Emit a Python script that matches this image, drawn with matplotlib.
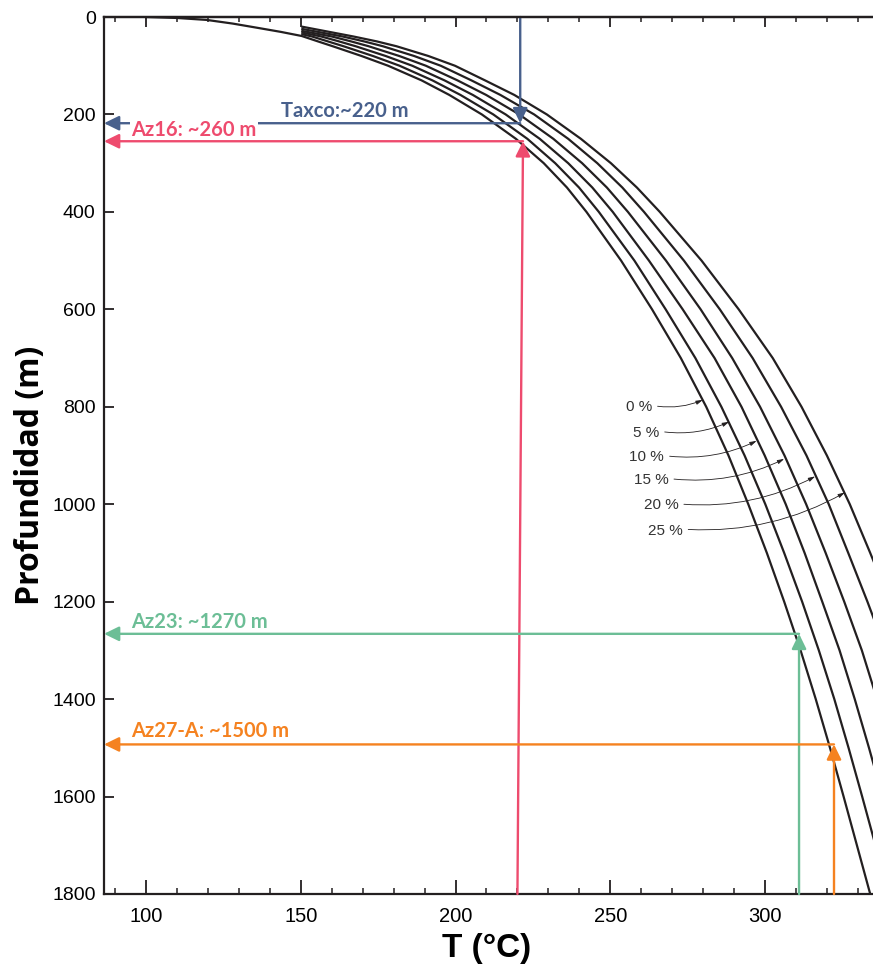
import numpy as np
import matplotlib.pyplot as plt

plt.rcParams['font.family'] = ['Liberation Sans', 'DejaVu Sans']

# curva 0 % (incluye el tramo comun superficial)
d_0 = [0, 2, 6, 13.5, 22, 30.5, 39, 50, 60, 80, 100, 130, 160, 200, 250, 300, 350,
       400, 500, 600, 700, 800, 900, 1000, 1100, 1200, 1300, 1400, 1500, 1600, 1700, 1800]
t_0 = [100, 110, 119.6, 128, 135.8, 143.5, 150.3, 155.5, 160.3, 169.6, 178.2, 189, 198,
       208.5, 219.5, 228.5, 236, 242.3, 253.5, 263.5, 272.8, 281, 288.2, 294.6, 300.6,
       306.2, 311.5, 316.4, 321, 325.4, 329.7, 334]

# resto de curvas: arrancan en T = 150.5 a distintas profundidades
grid = [40, 50, 60, 80, 100, 130, 160, 200, 250, 300, 350, 400, 500, 600, 700, 800,
        900, 1000, 1100, 1200, 1300, 1400, 1500, 1600, 1700, 1800]
t_5 = [153.6, 158.7, 163.8, 173.3, 181.9, 192.5, 201.6, 212.2, 223.2, 232.2, 239.9,
       246.3, 257.8, 267.9, 277.5, 285.9, 293.4, 300.1, 306.2, 312, 317.4, 322.4, 327,
       331.4, 335.7, 340]
t_10 = [156.6, 162.3, 167.7, 177.4, 186, 196.4, 205.6, 216.2, 227.2, 236.4, 244.2,
        250.8, 262.5, 273.4, 283.7, 292.4, 299.9, 306.7, 312.8, 318.5, 324.1, 329,
        333.6, 338]
t_15 = [160, 166.2, 171.9, 181.8, 190.4, 200.6, 209.9, 220.6, 231.6, 240.9, 248.9,
        255.7, 268, 279.2, 289.4, 298.4, 306.3, 313.3, 319.6, 325.6, 331.3, 336.2]
t_20 = [163.5, 170.4, 176.5, 186.6, 195.2, 205.1, 214.5, 225.4, 236.4, 245.8, 253.9,
        260.9, 273.8, 285.4, 296, 305.2, 313.4, 320.6, 326.9, 333.1, 339]
t_25 = [167, 174.5, 180.9, 191.2, 199.8, 209.5, 219, 229.5, 240.5, 250.2, 258.6, 266,
        279.5, 291.5, 302.5, 311.8, 320, 327.4, 334, 340.4]
start_t = 150.5
start_d = [35.5, 32, 28.7, 24.6, 20]
curvas = [t_5, t_10, t_15, t_20, t_25]

pct_labels = ['0 %', '5 %', '10 %', '15 %', '20 %', '25 %']
pct_text = [(263.5, 800), (265.8, 853), (267.4, 903), (268.8, 950), (272, 1002), (273.4, 1054)]
pct_tip = [(279.9, 786), (288.4, 831), (297.3, 870), (306.2, 907), (316.2, 943), (325.8, 976)]

# pozos
pozos = ['Taxco:~220 m', 'Az16: ~260 m', 'Az23: ~1270 m', 'Az27-A: ~1500 m']
pozo_t_base = [220.9, 220.0, 311.0, 322.3]
pozo_t_tip = [220.9, 221.8, 311.0, 322.3]
pozo_d = [218, 255, 1266, 1493]
pozo_col = ['#48608c', '#ee4b6e', '#6cbe96', '#f58220']
pozo_txt = [(143.6, 193), (95.3, 231), (95.3, 1242), (95.3, 1466)]

negro = '#231f20'
fig = plt.figure(figsize=(8.73, 9.73), dpi=100)
ax = fig.add_axes([104 / 873, 1 - 894 / 973, (873 - 104) / 873, 877 / 973])

ax.plot(t_0, d_0, color=negro, lw=1.6, zorder=2)
for k, t in enumerate(curvas):
    ax.plot([start_t] + t, [start_d[k]] + grid[:len(t)], color=negro, lw=1.6, zorder=2)

for lab, (tx, ty), (px, py) in zip(pct_labels, pct_text, pct_tip):
    ax.annotate(lab, xy=(px, py), xytext=(tx, ty), ha='right', va='center',
                fontsize=11, color='#333333',
                arrowprops=dict(arrowstyle='-|>,head_length=0.5,head_width=0.15', color=negro, lw=0.6,
                                connectionstyle='arc3,rad=0.15', relpos=(1.0, 0.6),
                                shrinkA=2, shrinkB=0, mutation_scale=8))

xmin = 86.4
for i in range(len(pozos)):
    c = pozo_col[i]
    z = 2.5 if i == 0 else 4
    ap = dict(arrowstyle='-|>,head_length=0.45,head_width=0.22', color=c, lw=1.7,
              mutation_scale=20, shrinkA=0, shrinkB=0)
    base = 0 if i == 0 else 1800
    ax.annotate('', xy=(pozo_t_tip[i], pozo_d[i]), xytext=(pozo_t_base[i], base),
                arrowprops=ap, zorder=z)
    ax.annotate('', xy=(xmin, pozo_d[i]), xytext=(pozo_t_tip[i], pozo_d[i]),
                arrowprops=ap, zorder=z)
    bb = dict(facecolor='white', edgecolor='none', pad=1.0) if i == 1 else None
    ax.text(pozo_txt[i][0], pozo_txt[i][1], pozos[i], color=c, fontsize=14.5,
            fontweight='bold', family=['Lato', 'DejaVu Sans'], ha='left', va='center',
            bbox=bb, zorder=3)

ax.set_xlim(xmin, 334.9)
ax.set_ylim(1800, 0)
ax.spines['right'].set_visible(False)
for s in ['left', 'top', 'bottom']:
    ax.spines[s].set_linewidth(1.6)
    ax.spines[s].set_color(negro)

ax.set_xticks([100, 150, 200, 250, 300])
ax.set_xticks(np.arange(90, 335, 10), minor=True)
ax.set_yticks(np.arange(0, 1801, 200))
ax.tick_params(axis='x', which='major', direction='in', length=10, width=1.3, pad=9,
               labelsize=14.5, color=negro)
ax.tick_params(axis='x', which='minor', direction='in', length=4, width=1.1, color=negro)
ax.tick_params(axis='y', direction='in', length=7, width=1.3, pad=6, labelsize=14,
               color=negro)

top = ax.secondary_xaxis('top')
top.set_xticks([100, 150, 200, 250, 300])
top.set_xticks(np.arange(90, 335, 10), minor=True)
top.tick_params(which='major', direction='in', length=7, width=1.3, labeltop=False, color=negro)
top.tick_params(which='minor', direction='in', length=3.5, width=1.1, color=negro)
top.spines['top'].set_linewidth(1.6)

ax.set_xlabel('T (°C)', fontsize=24, fontweight='bold', va='center')
ax.xaxis.set_label_coords(0.497, -(948 - 894) / 877)
ax.set_ylabel('Profundidad (m)', fontsize=23, fontweight='bold', va='center',
              family=['Open Sans', 'DejaVu Sans'])
ax.yaxis.set_label_coords((31 - 104) / 769, 1 - (475 - 17) / 877)

fig.savefig('out.png', dpi=100)
